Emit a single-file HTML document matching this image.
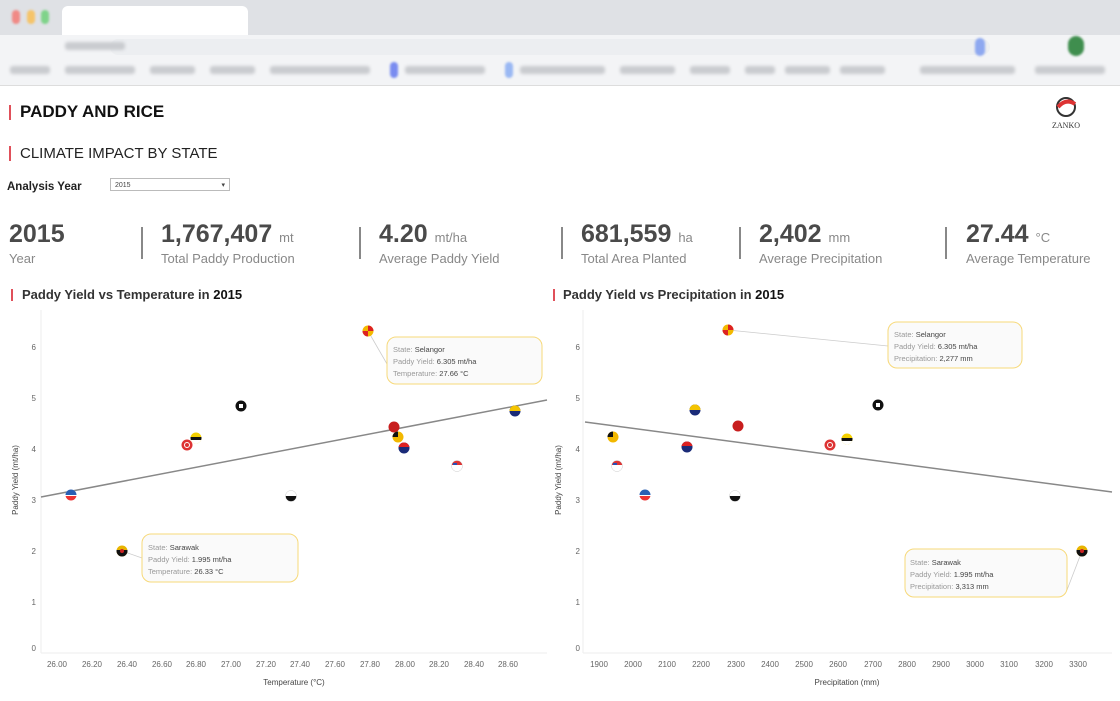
<!DOCTYPE html>
<html><head><meta charset="utf-8"><style>
body{margin:0;width:1120px;height:701px;overflow:hidden;background:#fff;font-family:"Liberation Sans",sans-serif;position:relative}
.a{position:absolute}
.chrome1{left:0;top:0;width:1120px;height:35px;background:#dfe1e5}
.chrome2{left:0;top:35px;width:1120px;height:50px;background:#f3f4f6;border-bottom:1px solid #ddd}
.blk{position:absolute;background:#c9cbcf;border-radius:3px;filter:blur(1.5px)}
.bar{position:absolute;width:2px;background:#e0505a}
.big{font-size:25px;font-weight:bold;color:#4a4a4a}
.unit{font-size:13px;color:#888;font-weight:normal}
.lab{font-size:13px;color:#888;margin-top:2px}
.sep{position:absolute;width:2px;height:32px;background:#888;top:227px}
</style></head><body>
<div class="a chrome1"></div>
<div class="a" style="left:12px;top:10px;width:8px;height:14px;background:#f08a86;border-radius:4px;filter:blur(1px)"></div>
<div class="a" style="left:27px;top:10px;width:8px;height:14px;background:#f5c46a;border-radius:4px;filter:blur(1px)"></div>
<div class="a" style="left:41px;top:10px;width:8px;height:14px;background:#7fd38a;border-radius:4px;filter:blur(1px)"></div>
<div class="a" style="left:62px;top:6px;width:186px;height:30px;background:#fff;border-radius:6px 6px 0 0"></div>
<div class="a chrome2"></div>
<div class="a" style="left:110px;top:39px;width:880px;height:16px;background:#eceef1;border-radius:8px"></div>
<div class="blk" style="left:65px;top:42px;width:60px;height:8px"></div>
<div class="a" style="left:975px;top:38px;width:10px;height:18px;background:#8ea8f0;border-radius:5px;filter:blur(1px)"></div>
<div class="a" style="left:1068px;top:36px;width:16px;height:20px;background:#3f8e4e;border-radius:8px;filter:blur(1px)"></div>
<div class="blk" style="left:10px;top:66px;width:40px;height:8px"></div>
<div class="blk" style="left:65px;top:66px;width:70px;height:8px"></div>
<div class="blk" style="left:150px;top:66px;width:45px;height:8px"></div>
<div class="blk" style="left:210px;top:66px;width:45px;height:8px"></div>
<div class="blk" style="left:270px;top:66px;width:100px;height:8px"></div>
<div class="a" style="left:390px;top:62px;width:8px;height:16px;background:#7a8cf0;border-radius:4px;filter:blur(1px)"></div>
<div class="blk" style="left:405px;top:66px;width:80px;height:8px"></div>
<div class="a" style="left:505px;top:62px;width:8px;height:16px;background:#9ab8f3;border-radius:4px;filter:blur(1px)"></div>
<div class="blk" style="left:520px;top:66px;width:85px;height:8px"></div>
<div class="blk" style="left:620px;top:66px;width:55px;height:8px"></div>
<div class="blk" style="left:690px;top:66px;width:40px;height:8px"></div>
<div class="blk" style="left:745px;top:66px;width:30px;height:8px"></div>
<div class="blk" style="left:785px;top:66px;width:45px;height:8px"></div>
<div class="blk" style="left:840px;top:66px;width:45px;height:8px"></div>
<div class="blk" style="left:920px;top:66px;width:95px;height:8px"></div>
<div class="blk" style="left:1035px;top:66px;width:70px;height:8px"></div>

<div class="bar" style="left:9px;top:105px;height:15px"></div>
<div class="a" style="left:20px;top:102px;font-size:17px;font-weight:bold;color:#111">PADDY AND RICE</div>
<div class="a" style="left:1053px;top:96px;width:26px;height:22px"><svg width="26" height="22"><circle cx="13" cy="11" r="9" fill="none" stroke="#333" stroke-width="2"/><path d="M5 11 Q13 2 22 8" stroke="#d33" stroke-width="4" fill="none"/></svg></div>
<div class="a" style="left:1052px;top:121px;font-size:8px;color:#333;font-family:'Liberation Serif',serif">ZANKO</div>
<div class="bar" style="left:9px;top:146px;height:15px"></div>
<div class="a" style="left:20px;top:145px;font-size:15px;color:#222">CLIMATE IMPACT BY STATE</div>
<div class="a" style="left:7px;top:181px;font-size:11.5px;font-weight:bold;color:#222">Analysis Year</div>
<div class="a" style="left:110px;top:178px;width:120px;height:13px;border:1px solid #bbb;font-size:7px;color:#444;line-height:13px;padding-left:4px;box-sizing:border-box">2015<span style="position:absolute;right:4px">▾</span></div>

<div class="a" style="left:9px;top:220px"><div class="big">2015</div><div class="lab">Year</div></div>
<div class="sep" style="left:141px"></div>
<div class="a" style="left:161px;top:220px"><div class="big">1,767,407 <span class="unit">mt</span></div><div class="lab">Total Paddy Production</div></div>
<div class="sep" style="left:359px"></div>
<div class="a" style="left:379px;top:220px"><div class="big">4.20 <span class="unit">mt/ha</span></div><div class="lab">Average Paddy Yield</div></div>
<div class="sep" style="left:561px"></div>
<div class="a" style="left:581px;top:220px"><div class="big">681,559 <span class="unit">ha</span></div><div class="lab">Total Area Planted</div></div>
<div class="sep" style="left:739px"></div>
<div class="a" style="left:759px;top:220px"><div class="big">2,402 <span class="unit">mm</span></div><div class="lab">Average Precipitation</div></div>
<div class="sep" style="left:945px"></div>
<div class="a" style="left:966px;top:220px"><div class="big">27.44 <span class="unit">°C</span></div><div class="lab">Average Temperature</div></div>

<div class="bar" style="left:11px;top:289px;height:12px"></div>
<div class="a" style="left:22px;top:287px;font-size:13px;font-weight:bold;color:#333">Paddy Yield vs Temperature in <span style="color:#111">2015</span></div>
<div class="bar" style="left:553px;top:289px;height:12px"></div>
<div class="a" style="left:563px;top:287px;font-size:13px;font-weight:bold;color:#333">Paddy Yield vs Precipitation in <span style="color:#111">2015</span></div>

<svg class="a" style="left:0;top:0" width="1120" height="701" font-family="Liberation Sans, sans-serif">
<defs>
<clipPath id="c"><circle r="5.5"/></clipPath>
</defs>
<g font-size="8" fill="#666">
<line x1="41" y1="310" x2="41" y2="653" stroke="#eee"/><line x1="41" y1="653" x2="547" y2="653" stroke="#eee"/>
<text x="36" y="350" text-anchor="end">6</text><text x="36" y="401" text-anchor="end">5</text><text x="36" y="452" text-anchor="end">4</text><text x="36" y="503" text-anchor="end">3</text><text x="36" y="554" text-anchor="end">2</text><text x="36" y="605" text-anchor="end">1</text><text x="36" y="651" text-anchor="end">0</text>
<g text-anchor="middle">
<text x="57" y="667">26.00</text><text x="92" y="667">26.20</text><text x="127" y="667">26.40</text><text x="162" y="667">26.60</text><text x="196" y="667">26.80</text><text x="231" y="667">27.00</text><text x="266" y="667">27.20</text><text x="300" y="667">27.40</text><text x="335" y="667">27.60</text><text x="370" y="667">27.80</text><text x="405" y="667">28.00</text><text x="439" y="667">28.20</text><text x="474" y="667">28.40</text><text x="508" y="667">28.60</text>
<text x="294" y="685" fill="#444">Temperature (°C)</text>
</g>
<text transform="translate(18,480) rotate(-90)" text-anchor="middle" fill="#444">Paddy Yield (mt/ha)</text>

<line x1="583" y1="310" x2="583" y2="653" stroke="#eee"/><line x1="583" y1="653" x2="1112" y2="653" stroke="#eee"/>
<text x="580" y="350" text-anchor="end">6</text><text x="580" y="401" text-anchor="end">5</text><text x="580" y="452" text-anchor="end">4</text><text x="580" y="503" text-anchor="end">3</text><text x="580" y="554" text-anchor="end">2</text><text x="580" y="605" text-anchor="end">1</text><text x="580" y="651" text-anchor="end">0</text>
<g text-anchor="middle">
<text x="599" y="667">1900</text><text x="633" y="667">2000</text><text x="667" y="667">2100</text><text x="701" y="667">2200</text><text x="736" y="667">2300</text><text x="770" y="667">2400</text><text x="804" y="667">2500</text><text x="838" y="667">2600</text><text x="873" y="667">2700</text><text x="907" y="667">2800</text><text x="941" y="667">2900</text><text x="975" y="667">3000</text><text x="1009" y="667">3100</text><text x="1044" y="667">3200</text><text x="1078" y="667">3300</text>
<text x="847" y="685" fill="#444">Precipitation (mm)</text>
</g>
<text transform="translate(561,480) rotate(-90)" text-anchor="middle" fill="#444">Paddy Yield (mt/ha)</text>
</g>

<line x1="41" y1="497" x2="547" y2="400" stroke="#888" stroke-width="1.5"/>
<line x1="585" y1="422" x2="1112" y2="492" stroke="#888" stroke-width="1.5"/>

<g stroke="#ccc" stroke-width="0.8">
<line x1="368" y1="331" x2="387" y2="364"/><line x1="122" y1="551" x2="142" y2="558"/>
<line x1="728" y1="330" x2="888" y2="346"/><line x1="1082" y1="551" x2="1067" y2="590"/>
</g>

<g>
<!-- left -->
<g transform="translate(71,495)"><g clip-path="url(#c)"><circle r="6" fill="#fff"/><rect x="-6" y="-6" width="12" height="6" fill="#2a5fb4"/><rect x="-6" y="1" width="12" height="5" fill="#e33"/></g></g>
<g transform="translate(122,551)"><g clip-path="url(#c)"><circle r="6" fill="#e8b400"/><rect x="-6" y="-1" width="12" height="7" fill="#111"/><circle r="2" fill="#c22"/></g></g>
<g transform="translate(187,445)"><g clip-path="url(#c)"><circle r="6" fill="#d33"/><circle r="2.5" fill="none" stroke="#fff"/></g></g>
<g transform="translate(196,438)"><g clip-path="url(#c)"><circle r="6" fill="#f4d000"/><rect x="-6" y="-1" width="12" height="3" fill="#111"/><rect x="-6" y="2" width="12" height="4" fill="#fff"/></g></g>
<g transform="translate(241,406)"><g clip-path="url(#c)"><circle r="6" fill="#111"/><rect x="-2" y="-2" width="4" height="4" fill="#fff"/></g></g>
<g transform="translate(291,496)"><g clip-path="url(#c)"><circle r="6" fill="#fff"/><rect x="-6" y="0" width="12" height="6" fill="#111"/></g><circle r="5.5" fill="none" stroke="#ccc" stroke-width=".5"/></g>
<g transform="translate(368,331)"><g clip-path="url(#c)"><circle r="6" fill="#f3b800"/><rect x="0" y="-6" width="6" height="6" fill="#d22"/><rect x="-6" y="0" width="6" height="6" fill="#d22"/></g></g>
<g transform="translate(394,427)"><circle r="5.5" fill="#c81e1e"/></g>
<g transform="translate(398,437)"><g clip-path="url(#c)"><circle r="6" fill="#f2b800"/><rect x="-6" y="-6" width="6" height="6" fill="#111"/></g></g>
<g transform="translate(404,448)"><g clip-path="url(#c)"><circle r="6" fill="#1a2b78"/><rect x="-6" y="-6" width="12" height="5" fill="#d22"/></g></g>
<g transform="translate(457,466)"><g clip-path="url(#c)"><circle r="6" fill="#fff"/><rect x="-6" y="-6" width="12" height="5" fill="#d33"/><rect x="-4" y="-3" width="4" height="2" fill="#2a4fb4"/></g><circle r="5.5" fill="none" stroke="#ccc" stroke-width=".5"/></g>
<g transform="translate(515,411)"><g clip-path="url(#c)"><circle r="6" fill="#1a2b78"/><rect x="-6" y="-6" width="12" height="6" fill="#f4c400"/></g></g>
<!-- right -->
<g transform="translate(613,437)"><g clip-path="url(#c)"><circle r="6" fill="#f2b800"/><rect x="-6" y="-6" width="6" height="6" fill="#111"/></g></g>
<g transform="translate(617,466)"><g clip-path="url(#c)"><circle r="6" fill="#fff"/><rect x="-6" y="-6" width="12" height="5" fill="#d33"/><rect x="-4" y="-3" width="4" height="2" fill="#2a4fb4"/></g><circle r="5.5" fill="none" stroke="#ccc" stroke-width=".5"/></g>
<g transform="translate(645,495)"><g clip-path="url(#c)"><circle r="6" fill="#fff"/><rect x="-6" y="-6" width="12" height="6" fill="#2a5fb4"/><rect x="-6" y="1" width="12" height="5" fill="#e33"/></g></g>
<g transform="translate(687,447)"><g clip-path="url(#c)"><circle r="6" fill="#1a2b78"/><rect x="-6" y="-6" width="12" height="5" fill="#d22"/></g></g>
<g transform="translate(695,410)"><g clip-path="url(#c)"><circle r="6" fill="#1a2b78"/><rect x="-6" y="-6" width="12" height="6" fill="#f4c400"/></g></g>
<g transform="translate(728,330)"><g clip-path="url(#c)"><circle r="6" fill="#f3b800"/><rect x="0" y="-6" width="6" height="6" fill="#d22"/><rect x="-6" y="0" width="6" height="6" fill="#d22"/></g></g>
<g transform="translate(735,496)"><g clip-path="url(#c)"><circle r="6" fill="#fff"/><rect x="-6" y="0" width="12" height="6" fill="#111"/></g><circle r="5.5" fill="none" stroke="#ccc" stroke-width=".5"/></g>
<g transform="translate(738,426)"><circle r="5.5" fill="#c81e1e"/></g>
<g transform="translate(830,445)"><g clip-path="url(#c)"><circle r="6" fill="#d33"/><circle r="2.5" fill="none" stroke="#fff"/></g></g>
<g transform="translate(847,439)"><g clip-path="url(#c)"><circle r="6" fill="#f4d000"/><rect x="-6" y="-1" width="12" height="3" fill="#111"/><rect x="-6" y="2" width="12" height="4" fill="#fff"/></g></g>
<g transform="translate(878,405)"><g clip-path="url(#c)"><circle r="6" fill="#111"/><rect x="-2" y="-2" width="4" height="4" fill="#fff"/></g></g>
<g transform="translate(1082,551)"><g clip-path="url(#c)"><circle r="6" fill="#e8b400"/><rect x="-6" y="-1" width="12" height="7" fill="#111"/><circle r="2" fill="#c22"/></g></g>
</g>

<g font-size="7.5">
<rect x="387" y="337" width="155" height="47" rx="9" fill="#fafafa" stroke="#f7d97a"/>
<text x="393" y="352" fill="#999">State: <tspan fill="#444">Selangor</tspan></text>
<text x="393" y="364" fill="#999">Paddy Yield: <tspan fill="#444">6.305 mt/ha</tspan></text>
<text x="393" y="376" fill="#999">Temperature: <tspan fill="#444">27.66 °C</tspan></text>
<rect x="142" y="534" width="156" height="48" rx="9" fill="#fafafa" stroke="#f7d97a"/>
<text x="148" y="550" fill="#999">State: <tspan fill="#444">Sarawak</tspan></text>
<text x="148" y="562" fill="#999">Paddy Yield: <tspan fill="#444">1.995 mt/ha</tspan></text>
<text x="148" y="574" fill="#999">Temperature: <tspan fill="#444">26.33 °C</tspan></text>
<rect x="888" y="322" width="134" height="46" rx="9" fill="#fafafa" stroke="#f7d97a"/>
<text x="894" y="337" fill="#999">State: <tspan fill="#444">Selangor</tspan></text>
<text x="894" y="349" fill="#999">Paddy Yield: <tspan fill="#444">6.305 mt/ha</tspan></text>
<text x="894" y="361" fill="#999">Precipitation: <tspan fill="#444">2,277 mm</tspan></text>
<rect x="905" y="549" width="162" height="48" rx="9" fill="#fafafa" stroke="#f7d97a"/>
<text x="910" y="565" fill="#999">State: <tspan fill="#444">Sarawak</tspan></text>
<text x="910" y="577" fill="#999">Paddy Yield: <tspan fill="#444">1.995 mt/ha</tspan></text>
<text x="910" y="589" fill="#999">Precipitation: <tspan fill="#444">3,313 mm</tspan></text>
</g>
</svg>
</body></html>
